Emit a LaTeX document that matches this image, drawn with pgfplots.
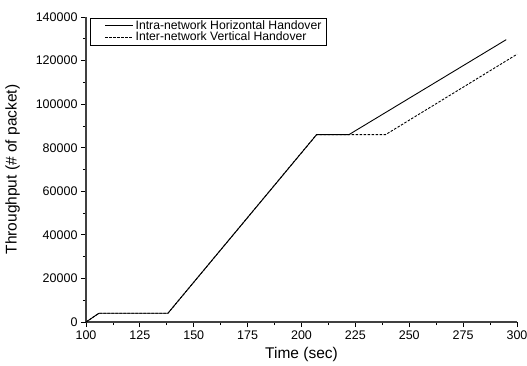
\documentclass[border=0pt]{standalone}
\usepackage{pgfplots}
\pgfplotsset{compat=1.18}
\usepackage{fontspec}
\setmainfont{Liberation Sans}
\begin{document}
\begin{tikzpicture}
\begin{axis}[
  scale only axis,
  width=431pt, height=305pt,
  xmin=100, xmax=300, ymin=0, ymax=140000,
  axis x line*=bottom, axis y line*=left,
  axis line style={-, line width=1.6pt, black!75},
  xtick={100,125,...,300},
  ytick={0,20000,...,140000},
  minor x tick num=1, minor y tick num=1,
  tick align=outside,
  major tick length=5pt, minor tick length=3pt,
  tick style={black, line width=0.8pt},
  scaled y ticks=false,
  /pgf/number format/assume math mode=true,
  yticklabel={\pgfmathprintnumber[fixed,precision=0,1000 sep={}]{\tick}},
  ticklabel style={font=\fontsize{12.5}{12.5}\selectfont},
  xlabel={Time (sec)}, ylabel={Throughput (\# of packet)},
  label style={font=\fontsize{15.5}{15.5}\selectfont},
  xlabel style={at={(axis description cs:0.5,0)}, anchor=north, yshift=-22pt},
  ylabel style={yshift=9pt},
  legend cell align=left,
  legend style={at={(0.009,0.997)}, anchor=north west, font=\fontsize{12.2}{12.2}\selectfont,
    draw=black, line width=0.6pt, inner xsep=3pt, inner ysep=0.5pt, row sep=-3pt},
  legend image code/.code={\path[draw=none,fill=none] (-12pt,-2pt) rectangle (28pt,2pt); \draw[#1] (0pt,0pt) -- (28pt,0pt);},
]
\addplot[black, line width=0.9pt] coordinates {
 (100,0) (106,4000) (138,4000) (207,86000) (222,86000) (295,129600)};
\addlegendentry{Intra-network Horizontal Handover}
\addplot[black, line width=0.9pt, dash pattern=on 2.5pt off 1.5pt] coordinates {
 (100,0) (106,4000) (138,4000) (207,86000) (239,86000) (300,122900)};
\addlegendentry{Inter-network Vertical Handover}
\end{axis}
\pgfresetboundingbox
\path (current axis.south west) ++(-86pt,-43pt) rectangle ++(527pt,365pt);
\end{tikzpicture}
\end{document}
